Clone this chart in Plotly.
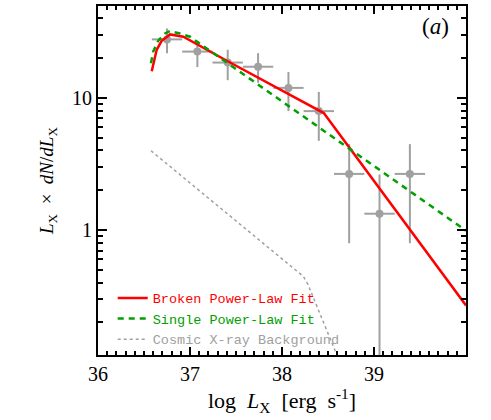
import plotly.graph_objects as go

# binned luminosity function (log Lx bin centres, Lx dN/dLx, errors)
bin_x = [36.75, 37.08, 37.41, 37.74, 38.07, 38.40, 38.73, 39.06, 39.39]
bin_y = [27.7, 22.4, 18.5, 17.2, 11.9, 7.94, 2.66, 1.33, 2.66]
bin_hi = [33.5, 27.0, 23.1, 21.8, 15.7, 11.1, 4.47, 2.63, 4.47]
bin_lo = [21.8, 17.1, 13.6, 13.0, 7.94, 4.73, 0.795, 0.03, 0.795]
bin_halfwidth = 0.165

# broken power-law fit
bpl_x = [36.584, 36.638, 36.692, 36.783, 36.927, 37.40, 38.454, 40.0]
bpl_y = [15.9, 23.1, 27.0, 30.2, 29.0, 19.1, 7.68, 0.269]

# single power-law fit
spl_x = [36.576, 36.60, 36.655, 36.728, 36.783, 36.891, 37.0, 40.0]
spl_y = [18.3, 22.4, 27.1, 30.7, 32.0, 30.7, 29.0, 0.99]

# cosmic X-ray background
cxb_x = [36.576, 38.10, 38.232, 38.283, 38.449, 38.595, 38.65]
cxb_y = [3.98, 0.53, 0.446, 0.387, 0.200, 0.1135, 0.092]

grey = "rgb(160,160,160)"
red = "rgb(255,0,0)"
green = "rgb(0,160,0)"

fig = go.Figure()

fig.add_trace(go.Scatter(
    x=bin_x, y=bin_y, mode="markers", showlegend=False,
    marker=dict(color=grey, size=8),
    error_x=dict(type="constant", value=bin_halfwidth, color=grey, thickness=2, width=0),
    error_y=dict(type="data", symmetric=False,
                 array=[h - v for h, v in zip(bin_hi, bin_y)],
                 arrayminus=[v - l for v, l in zip(bin_y, bin_lo)],
                 color=grey, thickness=2, width=0),
))

fig.add_trace(go.Scatter(
    x=bpl_x, y=bpl_y, mode="lines",
    name="<span style='color:rgb(255,0,0)'>Broken Power-Law Fit</span>",
    line=dict(color=red, width=2.5),
))
fig.add_trace(go.Scatter(
    x=spl_x, y=spl_y, mode="lines",
    name="<span style='color:rgb(0,160,0)'>Single Power-Law Fit</span>",
    line=dict(color=green, width=2.5, dash="6px,5px"),
))
fig.add_trace(go.Scatter(
    x=cxb_x, y=cxb_y, mode="lines",
    name="<span style='color:rgb(160,160,160)'>Cosmic X-ray Background</span>",
    line=dict(color=grey, width=1.5, dash="dot"),
))

serif = "Liberation Serif"
axis_common = dict(
    showline=True, linecolor="black", linewidth=2, mirror="allticks",
    ticks="inside", tickcolor="black", tickwidth=1.5, showgrid=False, zeroline=False,
    tickfont=dict(family=serif, size=20, color="black"),
)

fig.update_xaxes(
    range=[36, 40], tickvals=[36, 37, 38, 39], ticklen=8,
    minor=dict(dtick=0.1, ticks="inside", ticklen=4, tickcolor="black", tickwidth=1.5),
    title=dict(text="log&nbsp;&nbsp;<i>L</i><sub>X</sub>&nbsp;&nbsp;[erg&nbsp;&nbsp;s<sup>-1</sup>]",
               font=dict(family=serif, size=22, color="black"), standoff=4),
    **axis_common,
)
minor_y = [0.2, 0.3, 0.4, 0.5, 0.6, 0.7, 0.8, 0.9, 2, 3, 4, 5, 6, 7, 8, 9, 20, 30, 40]
fig.update_yaxes(
    type="log", range=[-0.945, 1.695], tickvals=[1, 10], ticktext=["1", "10"], ticklen=9,
    minor=dict(tickvals=minor_y, ticks="inside", ticklen=5, tickcolor="black", tickwidth=1.5),
    title=dict(text="<i>L</i><sub>X</sub>&nbsp;&nbsp;×&nbsp;&nbsp;<i>dN</i>/<i>dL</i><sub>X</sub>",
               font=dict(family=serif, size=19, color="black"), standoff=13),
    **axis_common,
)

fig.add_annotation(x=0.916, y=0.94, xref="paper", yref="paper", showarrow=False,
                   xanchor="center", yanchor="middle",
                   text="(<i>a</i>)", font=dict(family=serif, size=23, color="black"))

fig.update_layout(
    width=491, height=420,
    margin=dict(l=98, r=25, t=4, b=65),
    plot_bgcolor="white", paper_bgcolor="white",
    legend=dict(x=0.04, y=0.207, xanchor="left", yanchor="top",
                bgcolor="rgba(0,0,0,0)", itemwidth=30, tracegroupgap=0,
                font=dict(family="Liberation Mono", size=13.5)),
)

fig.write_html("out.html", config={"displayModeBar": False},
               post_script="document.body.style.margin='0';")
